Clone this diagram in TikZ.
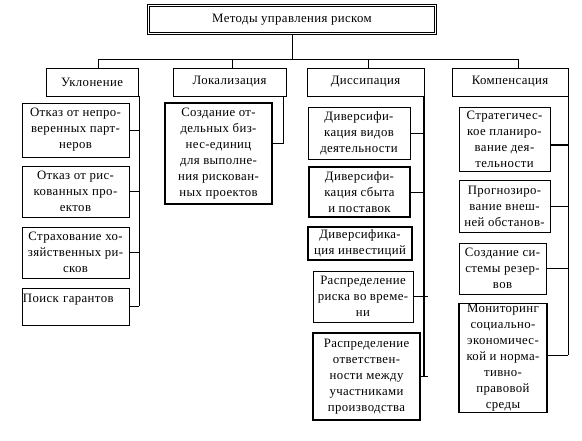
\documentclass[tikz,border=0pt]{standalone}
\usepackage{fontspec}
\setmainfont{Liberation Serif}[LetterSpace=3]
\begin{document}
\begin{tikzpicture}[x=1pt,y=-1pt,
  box/.style={draw, line width=0.8pt, inner sep=1pt, align=center, font=\fontsize{12.8}{16}\selectfont},
  tbox/.style={box, line width=1.25pt},
  ln/.style={line width=0.8pt},
  tln/.style={line width=1.5pt}]
\useasboundingbox (0,0) rectangle (582,441);
% title
\node[box, double, double distance=1.6pt, line width=0.7pt, minimum width=287, minimum height=28] (t) at (292,19.5) {Методы управления риском};
% level 1
\node[box, minimum width=92, minimum height=28] (uk) at (92,82) {Уклонение};
\node[box, minimum width=113, minimum height=28] (lo) at (229.5,82) {Локализация};
\node[box, minimum width=117, minimum height=28] (di) at (365.5,82) {Диссипация};
\node[box, minimum width=116, minimum height=28] (ko) at (510,82) {Компенсация};
\coordinate (h1) at (98,59);
\coordinate (h2) at (232,59);
\coordinate (h3) at (368,59);
\coordinate (h4) at (518,59);
\draw[ln] (t.south) -- (t.south |- h1);
\draw[ln] (h1) -- (h4);
\draw[ln] (h1) -- (h1 |- uk.north);
\draw[ln] (h2) -- (h2 |- lo.north);
\draw[ln] (h3) -- (h3 |- di.north);
\draw[ln] (h4) -- (h4 |- ko.north);
% Уклонение
\node[box, minimum width=107, minimum height=54] (u1) at (75.5,130) {Отказ от непро-\\веренных парт-\\неров};
\node[box, minimum width=107, minimum height=51] (u2) at (75.5,191.5) {Отказ от рис-\\кованных про-\\ектов};
\node[box, minimum width=107, minimum height=51] (u3) at (75.5,252.5) {Страхование хо-\\зяйственных ри-\\сков};
\node[box, minimum width=107, minimum height=37, align=left, text width=105, inner sep=0.5pt] (u4) at (75.5,306.5) {Поиск гарантов\\\mbox{}};
\coordinate (ub) at (139,96);
\draw[ln] (ub) -- (ub |- u4.east);
\foreach \n in {u1,u2,u3,u4} \draw[ln] (\n.east) -- (\n.east -| ub);
% Локализация
\node[tbox, minimum width=107, minimum height=101] (l1) at (218.5,153.5) {Создание от-\\дельных биз-\\нес-единиц\\для выполне-\\ния рискован-\\ных проектов};
\coordinate (lb) at (283,96);
\coordinate (lc) at ([yshift=10pt]l1.east);
\draw[ln] (lb) -- (lb |- lc) -- (lc);
% Диссипация
\node[box, minimum width=102, minimum height=52] (d1) at (359,133) {Диверсифи-\\кация видов\\деятельности};
\node[tbox, minimum width=101, minimum height=50] (d2) at (359.5,192) {Диверсифи-\\кация сбыта\\и поставок};
\node[tbox, minimum width=104, minimum height=33] (d3) at (360,243.5) {Диверсифика-\\ция инвестиций};
\node[box, minimum width=100, minimum height=51] (d4) at (363,296.5) {Распределение\\риска во време-\\ни};
\node[tbox, minimum width=107, minimum height=87] (d5) at (366.5,376.5) {Распределение\\ответствен-\\ности между\\участниками\\производства};
\coordinate (db) at (424,96);
\coordinate (de) at (428,297);
\draw[tln] (db) -- (db |- d5.east);
\draw[ln] (d1.east) -- (d1.east -| db);
\draw[ln] (d2.east) -- (d2.east -| db);
\draw[ln] (d4.east) -- (d4.east -| de);
\draw[tln] (d5.east) -- (d5.east -| de);
% Компенсация
\node[box, minimum width=91, minimum height=64] (k1) at (504.5,139) {Стратегичес-\\кое планиро-\\вание дея-\\тельности};
\node[box, minimum width=91, minimum height=52] (k2) at (504.5,206) {Прогнозиро-\\вание внеш-\\ней обстанов-};
\node[box, minimum width=87, minimum height=51] (k3) at (502.5,268.5) {Создание си-\\стемы резер-\\вов};
\node[tbox, minimum width=88, minimum height=108] (k4) at (503,358) {Мониторинг\\социально-\\экономичес-\\кой и норма-\\тивно-\\правовой\\среды};
\coordinate (kb) at (568,96);
\coordinate (k1c) at ([yshift=-6pt]k1.east);
\coordinate (k4c) at ([yshift=3pt]k4.east);
\draw[ln] (kb) -- (kb |- k4c);
\draw[tln] (k1c) -- (k1c -| kb);
\draw[ln] (k2.east) -- (k2.east -| kb);
\draw[ln] (k3.east) -- (k3.east -| kb);
\draw[ln] (k4c) -- (k4c -| kb);
\end{tikzpicture}
\end{document}
